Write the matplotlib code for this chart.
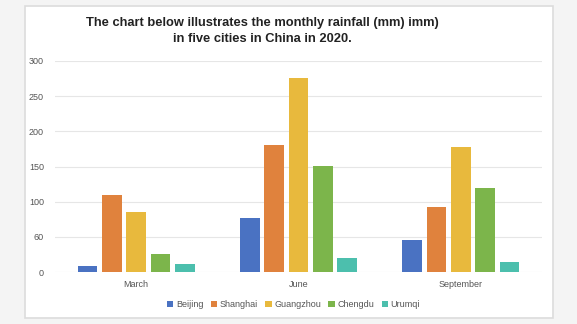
import matplotlib.pyplot as plt
from matplotlib.patches import Rectangle
import numpy as np

months = ['March', 'June', 'September']
city_labels = ['Beijing', 'Shanghai', 'Guangzhou', 'Chengdu', 'Urumqi']
beijing = [8, 77, 45]
shanghai = [110, 181, 93]
guangzhou = [85, 276, 178]
chengdu = [25, 151, 120]
urumqi = [11, 20, 14]
yticks = [0, 50, 100, 150, 200, 250, 300]
ytick_labels = ['0', '60', '100', '150', '200', '250', '300']

colors = ['#4a72c2', '#e0823d', '#e8b93d', '#7cb54b', '#4cbfad']
series = [beijing, shanghai, guangzhou, chengdu, urumqi]

plt.rcParams['font.family'] = ['Liberation Sans', 'DejaVu Sans']

fig = plt.figure(figsize=(5.77, 3.24), dpi=100)
fig.patch.set_facecolor('#f4f4f4')

# white panel behind the chart
bg = fig.add_axes([0, 0, 1, 1], zorder=-1)
bg.set_xlim(0, 577)
bg.set_ylim(324, 0)
bg.axis('off')
bg.add_patch(Rectangle((25, 6), 528, 312, facecolor='white', edgecolor='#dcdcdc', lw=1.2))

ax = fig.add_axes([55/577, 1-272/324, 487/577, 211/324])
ax.set_facecolor('white')
x = np.arange(len(months))
w = 0.12
step = 0.15
for i, (vals, c, lab) in enumerate(zip(series, colors, city_labels)):
    ax.bar(x + (i-2)*step, vals, width=w, color=c, label=lab, zorder=3)

ax.set_xlim(-0.5, 2.5)
ax.set_ylim(0, 300)
ax.set_yticks(yticks)
ax.set_yticklabels(ytick_labels)
ax.set_xticks(x)
ax.set_xticklabels(months)
ax.tick_params(length=0, labelsize=6.5, colors='#555555')
ax.tick_params(axis='y', pad=8)
ax.tick_params(axis='x', pad=6)
ax.grid(axis='y', color='#e6e6e6', lw=0.8, zorder=0)
for s in ax.spines.values():
    s.set_visible(False)

fig.text(262/577, 1-31/324, 'The chart below illustrates the monthly rainfall (mm) imm)\nin five cities in China in 2020.',
         ha='center', va='center', fontsize=9.3, fontweight='bold', color='#222222', linespacing=1.45)

ax.legend(loc='center', bbox_to_anchor=(0.49, -0.155), ncol=5, frameon=False,
          fontsize=6.5, handlelength=0.7, handleheight=0.7, handletextpad=0.3, columnspacing=0.8,
          labelcolor='#555555')

fig.savefig('out.png', dpi=100)
